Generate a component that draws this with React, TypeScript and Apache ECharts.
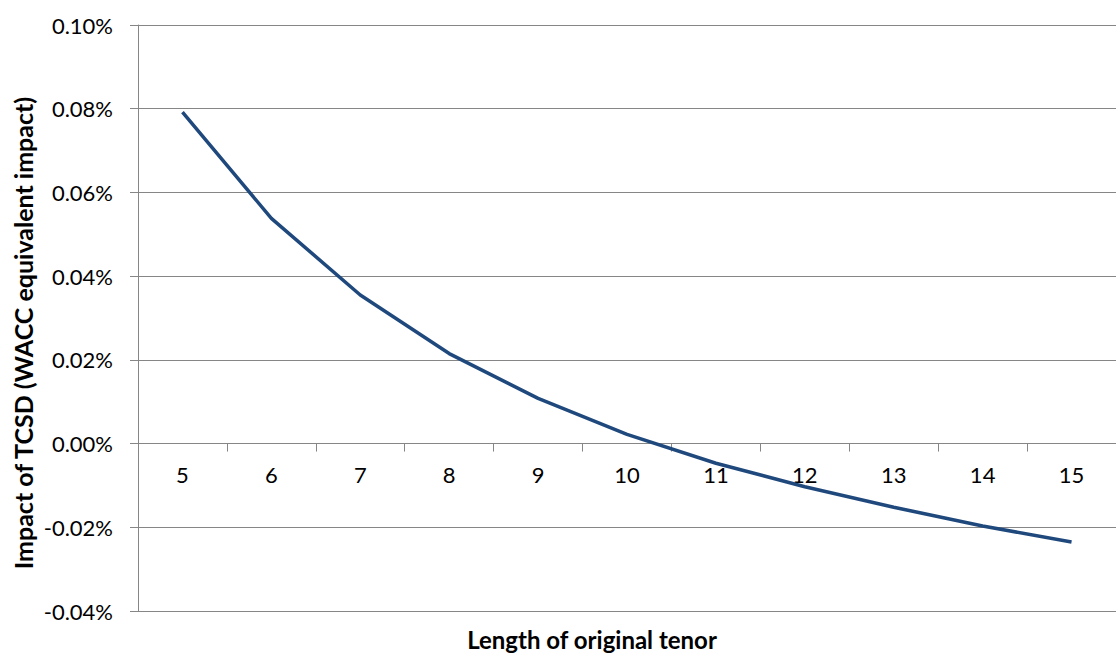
import React, { useEffect, useRef } from "react";
import * as echarts from "echarts";

const categories = ["5", "6", "7", "8", "9", "10", "11", "12", "13", "14", "15"];
// values in percent units
const impactValues = [0.0792, 0.0538, 0.0355, 0.0215, 0.0108, 0.0022, -0.0047, -0.0103, -0.0152, -0.0197, -0.0235];
const yMin = -0.04;
const yMax = 0.1;
const yInterval = 0.02;
const xTitle = "Length of original tenor";
const yTitle = "Impact of TCSD (WACC equivalent impact)";

const FONT = "Lato, 'Open Sans', sans-serif";

const GRID_TOP = 25;
const GRID_BOTTOM = 46;
const H = 657;

export default function App() {
  const ref = useRef<HTMLDivElement>(null);
  useEffect(() => {
    if (!ref.current) return;
    const chart = echarts.init(ref.current, null, { renderer: "svg" });
    const plotH = H - GRID_TOP - GRID_BOTTOM;
    const zeroOffset = -plotH * (0 - yMin) / (yMax - yMin);
    chart.setOption({
      animation: false,
      backgroundColor: "#ffffff",
      textStyle: { fontFamily: FONT },
      grid: { left: 138, top: GRID_TOP, right: -10, bottom: GRID_BOTTOM, containLabel: false },
      xAxis: {
        type: "category",
        data: categories,
        boundaryGap: true,
        offset: zeroOffset,
        axisLine: { onZero: false, lineStyle: { color: "#868686", width: 1 } },
        axisTick: { show: true, inside: false, length: 8, alignWithLabel: false, lineStyle: { color: "#868686" } },
        axisLabel: { color: "#000", fontSize: 22, fontFamily: FONT, margin: 20 },
        splitLine: { show: false },
      },
      yAxis: {
        type: "value",
        min: yMin,
        max: yMax,
        interval: yInterval,
        axisLine: { show: true, lineStyle: { color: "#868686", width: 1 } },
        axisTick: { show: true, length: 8, lineStyle: { color: "#868686" } },
        axisLabel: {
          color: "#000",
          fontSize: 22,
          fontFamily: FONT,
          margin: 25,
          formatter: (v: number) => v.toFixed(2) + "%",
        },
        splitLine: { show: true, lineStyle: { color: "#868686", width: 1 } },
      },
      series: [
        {
          type: "line",
          data: impactValues,
          symbol: "none",
          lineStyle: { color: "#1F497D", width: 3.5 },
          itemStyle: { color: "#1F497D" },
        },
      ],
      graphic: [
        {
          type: "text",
          x: 592,
          y: 639,
          style: {
            text: xTitle,
            fontSize: 24,
            fontWeight: "bold",
            fontFamily: FONT,
            fill: "#000",
            align: "center",
            verticalAlign: "middle",
          },
        },
        {
          type: "text",
          x: 23,
          y: 333,
          rotation: Math.PI / 2,
          style: {
            text: yTitle,
            fontSize: 25,
            fontWeight: "bold",
            fontFamily: FONT,
            fill: "#000",
            align: "center",
            verticalAlign: "middle",
          },
        },
      ],
    });
    return () => chart.dispose();
  }, []);
  return (
    <div
      ref={ref}
      style={{ position: "fixed", left: 0, top: 0, width: 1116, height: 657, background: "#fff" }}
    />
  );
}
